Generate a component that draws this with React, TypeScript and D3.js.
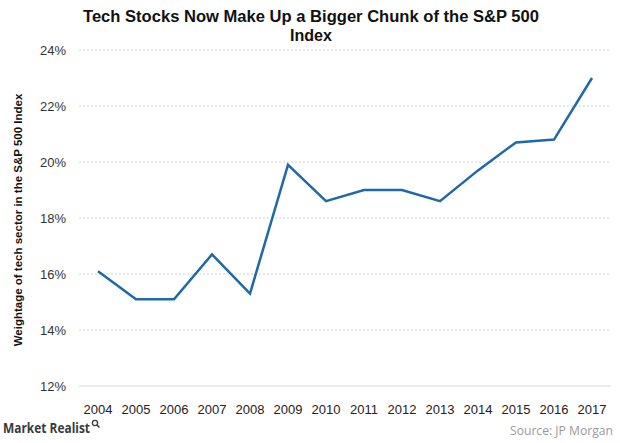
import React from "react";
import * as d3 from "d3";

const years = ["2004","2005","2006","2007","2008","2009","2010","2011","2012","2013","2014","2015","2016","2017"];
const weights = [16.1, 15.1, 15.1, 16.7, 15.3, 19.9, 18.6, 19.0, 19.0, 18.6, 19.7, 20.7, 20.8, 23.0];
const yTicks = [12, 14, 16, 18, 20, 22, 24];
const titleLines = ["Tech Stocks Now Make Up a Bigger Chunk of the S&P 500", "Index"];
const yLabel = "Weightage of tech sector in the S&P 500 Index";

export default function App() {
  const W = 620, H = 443;
  const left = 79, right = 611, top = 50, bottom = 386;
  const x = d3.scalePoint<string>().domain(years).range([left, right]).padding(0.5);
  const y = d3.scaleLinear().domain([12, 24]).range([bottom, top]);
  const line = d3.line<number>().x((_, i) => x(years[i]) as number).y((d) => y(d));
  const font = "'Liberation Sans', Arial, sans-serif";
  return (
    <svg width={W} height={H} style={{ position: "absolute", left: 0, top: 0, background: "#fff" }} fontFamily={font}>
      <rect width={W} height={H} fill="#fff" />
      <text x={311} y={22} textAnchor="middle" fontSize={16} fontWeight="bold" fill="#111"
        textLength={456} lengthAdjust="spacingAndGlyphs">{titleLines[0]}</text>
      <text x={311} y={41} textAnchor="middle" fontSize={16} fontWeight="bold" fill="#111"
        textLength={42} lengthAdjust="spacingAndGlyphs">{titleLines[1]}</text>
      {yTicks.map((t) => (
        <g key={t}>
          {t !== 12 && (
            <line x1={left} x2={right} y1={y(t)} y2={y(t)} stroke="#d0d0d0" strokeWidth={1} strokeDasharray="2,2" />
          )}
          <text x={66} y={y(t)} dy="0.35em" textAnchor="end" fontSize={13} fill="#333">{t}%</text>
        </g>
      ))}
      <line x1={left} x2={right} y1={bottom} y2={bottom} stroke="#d9d9d9" strokeWidth={1} />
      {years.map((yr) => (
        <text key={yr} x={x(yr)} y={414} textAnchor="middle" fontSize={13} fill="#222">{yr}</text>
      ))}
      <text transform={`translate(22,${(top + bottom) / 2 + 2}) rotate(-90)`} textAnchor="middle" fontSize={11.5} fontWeight="bold" fill="#111">{yLabel}</text>
      <path d={line(weights) || ""} fill="none" stroke="#1f69a8" strokeWidth={2.5} strokeLinejoin="miter" />
      <text x={3} y={433} fontSize={14} fontWeight="bold" fill="#3a3a3a" fontFamily="'Open Sans', sans-serif"
        textLength={87} lengthAdjust="spacingAndGlyphs">Market Realist</text>
      <circle cx={95} cy={423} r={2.6} fill="none" stroke="#3a3a3a" strokeWidth={1.3} />
      <line x1={97} y1={425} x2={99.5} y2={427.5} stroke="#3a3a3a" strokeWidth={1.5} />
      <text x={613} y={435} textAnchor="end" fontSize={12.5} fill="#9a9a9a" fontFamily="'Open Sans', sans-serif"
        textLength={103} lengthAdjust="spacingAndGlyphs">Source: JP Morgan</text>
    </svg>
  );
}
